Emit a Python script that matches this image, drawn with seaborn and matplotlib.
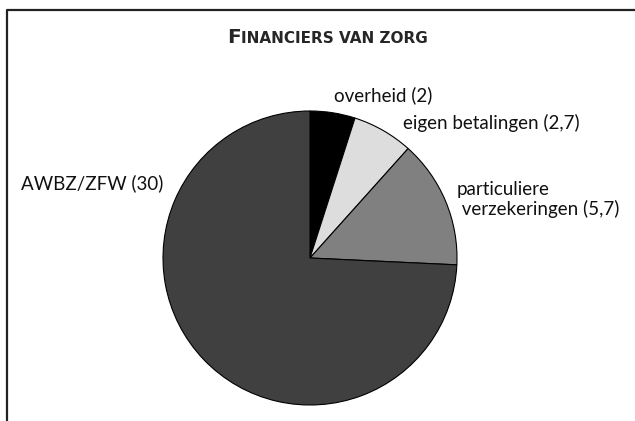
import matplotlib
matplotlib.use('Agg')
import matplotlib.pyplot as plt
from matplotlib.lines import Line2D
import seaborn as sns

labels = ['overheid (2)', 'eigen betalingen (2,7)',
          'particuliere\n verzekeringen (5,7)', 'AWBZ/ZFW (30)']
values = [2, 2.7, 5.7, 30]
colors = ['#000000', '#dddddd', '#808080', '#404040']
# label anchor (x, y, ha) in pie units
label_pos = [(0.16, 1.11, 'left'), (0.63, 0.92, 'left'),
             (1.0, 0.40, 'left'), (-1.0, 0.51, 'right')]

sns.set_theme(style='white')
plt.rcParams['font.family'] = ['Lato', 'DejaVu Sans']

fig = plt.figure(figsize=(6.35, 4.21), dpi=100)
ax = fig.add_axes([163 / 635, 16 / 421, 294 / 635, 294 / 421])

wedges, texts = ax.pie(values, labels=labels, colors=colors, startangle=90,
                       counterclock=False,
                       wedgeprops=dict(edgecolor='black', linewidth=0.8),
                       textprops=dict(fontsize=13.5, color='#111111',
                                      linespacing=1.15))
for t, (x, y, ha) in zip(texts, label_pos):
    t.set_position((x, y))
    t.set_ha(ha)
    t.set_va('center')
ax.set_xlim(-1, 1)
ax.set_ylim(-1, 1)

# frame: top and left edges only
fy = 1 - 10 / 421
fx = 7 / 635
fig.add_artist(Line2D([fx, fx, 1], [0, fy, fy], transform=fig.transFigure,
                      color='#222222', linewidth=1.6))

# small-caps title
big = 'F'
small = 'INANCIERS VAN ZORG'
tfont = ['DejaVu Sans']
r = fig.canvas.get_renderer()
t1 = fig.text(0, 0, big, fontsize=14.5, fontweight='bold', va='baseline',
              family=tfont)
t2 = fig.text(0, 0, small, fontsize=11, fontweight='bold', va='baseline',
              family=tfont)
w1 = t1.get_window_extent(r).width
w2 = t2.get_window_extent(r).width
x0 = (327 - (w1 + w2) / 2) / 635
yb = 1 - 43 / 421
t1.set_position((x0, yb))
t2.set_position((x0 + (w1 + 0.5) / 635, yb))

fig.savefig('out.png', dpi=100)
